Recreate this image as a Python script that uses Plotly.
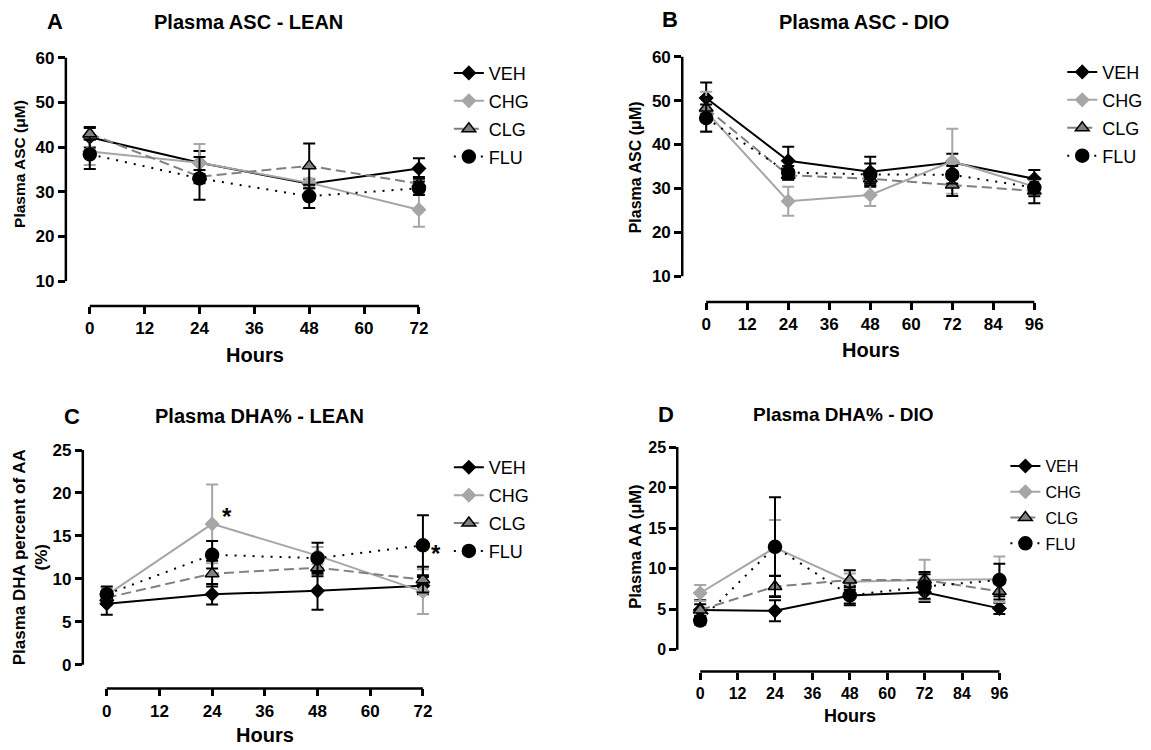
import plotly.graph_objects as go

W, H = 1151, 750
OX, OY = 8, 12  # page offset of the figure inside the browser window

# ---------------- data ----------------
groups = ["VEH", "CHG", "CLG", "FLU"]
hours_lean = [0, 24, 48, 72]
hours_dio = [0, 24, 48, 72, 96]
ticks_lean = [0, 12, 24, 36, 48, 60, 72]
ticks_dio = [0, 12, 24, 36, 48, 60, 72, 84, 96]
ticks_asc = [10, 20, 30, 40, 50, 60]
ticks_dha = [0, 5, 10, 15, 20, 25]

# Panel A: Plasma ASC - LEAN (uM)
a_veh = [42.2, 36.5, 31.8, 35.2]
a_chg = [39.0, 36.5, 32.0, 26.0]
a_clg = [43.0, 33.4, 35.8, 31.8]
a_flu = [38.4, 33.0, 29.0, 30.8]
a_veh_err = [2.3, 2.6, 1.0, 2.3]
a_chg_err = [3.0, 4.2, 1.0, 3.8]
a_clg_err = [1.3, 1.5, 5.0, 1.5]
a_flu_err = [3.3, 4.8, 2.6, 1.5]

# Panel B: Plasma ASC - DIO (uM)
b_veh = [50.6, 36.3, 33.8, 35.9, 32.2]
b_chg = [47.5, 27.1, 28.5, 36.2, 30.4]
b_clg = [48.3, 33.0, 32.2, 30.8, 29.4]
b_flu = [46.0, 33.6, 33.2, 33.1, 30.2]
b_veh_err = [3.5, 3.2, 3.4, 2.0, 2.0]
b_chg_err = [4.5, 3.3, 2.5, 7.4, 1.5]
b_clg_err = [2.5, 1.0, 1.0, 2.5, 2.8]
b_flu_err = [3.1, 1.5, 2.5, 2.0, 2.0]

# Panel C: Plasma DHA% - LEAN (% of AA)
c_veh = [7.1, 8.2, 8.6, 9.2]
c_chg = [8.1, 16.4, 12.7, 8.5]
c_clg = [7.8, 10.6, 11.3, 9.9]
c_flu = [8.2, 12.8, 12.4, 13.9]
c_veh_err = [1.3, 1.2, 2.2, 1.0]
c_chg_err = [0.8, 4.6, 1.0, 2.6]
c_clg_err = [0.6, 1.5, 1.0, 1.5]
c_flu_err = [0.9, 1.6, 1.8, 3.5]
c_star_x = [24, 72]
c_star_y = [17.3, 12.9]

# Panel D: Plasma DHA% - DIO (AA, uM)
d_veh = [4.9, 4.8, 6.7, 7.1, 5.1]
d_chg = [7.0, 12.6, 8.4, 8.6, 8.7]
d_clg = [4.9, 7.8, 8.6, 8.6, 7.2]
d_flu = [3.6, 12.7, 6.7, 7.8, 8.6]
d_veh_err = [1.2, 1.3, 1.2, 1.2, 0.7]
d_chg_err = [1.0, 3.4, 1.0, 2.5, 2.8]
d_clg_err = [0.7, 1.3, 1.2, 1.0, 1.0]
d_flu_err = [0.5, 6.1, 1.0, 1.5, 2.0]

# ---------------- styles ----------------
FONT = "Arial, Liberation Sans, Helvetica, sans-serif"
styles = {
    "VEH": dict(color="#000000", dash="solid", symbol="diamond", fill="#000000", edge="#000000", err="#000000", size=10),
    "CHG": dict(color="#a6a6a6", dash="solid", symbol="diamond", fill="#a6a6a6", edge="#a6a6a6", err="#a6a6a6", size=10),
    "CLG": dict(color="#808080", dash="10px,5px", symbol="triangle-up", fill="#808080", edge="#000000", err="#000000", size=12),
    "FLU": dict(color="#000000", dash="2px,7px", symbol="circle", fill="#000000", edge="#000000", err="#000000", size=13),
}


def px_x(p):
    return (p - OX) / W


def px_y(p):
    return 1 - (p - OY) / H


fig = go.Figure()

panels = [
    ("A", hours_lean, [a_veh, a_chg, a_clg, a_flu], [a_veh_err, a_chg_err, a_clg_err, a_flu_err], "", "legend"),
    ("B", hours_dio, [b_veh, b_chg, b_clg, b_flu], [b_veh_err, b_chg_err, b_clg_err, b_flu_err], "2", "legend2"),
    ("C", hours_lean, [c_veh, c_chg, c_clg, c_flu], [c_veh_err, c_chg_err, c_clg_err, c_flu_err], "3", "legend3"),
    ("D", hours_dio, [d_veh, d_chg, d_clg, d_flu], [d_veh_err, d_chg_err, d_clg_err, d_flu_err], "4", "legend4"),
]

for name, xs, series, errs, sfx, leg in panels:
    for g, ys, er in zip(groups, series, errs):
        st = styles[g]
        fig.add_trace(go.Scatter(
            x=xs, y=ys, name=g, mode="lines+markers",
            xaxis="x" + sfx, yaxis="y" + sfx, legend=leg, legendgroup=name + g,
            line=dict(color=st["color"], width=2, dash=st["dash"]),
            marker=dict(symbol=st["symbol"], size=st["size"], color=st["fill"],
                        line=dict(color=st["edge"], width=1.5)),
            error_y=dict(type="data", array=er, visible=True, color=st["err"], thickness=2, width=6),
            cliponaxis=False,
        ))

geo = {
    "A": dict(left=66, x0=90, ppx=55 / 12, xr=74, yref=60, yrefpx=57, ppy=4.5, bottom=307, ytop=61,
              yt=ticks_asc, xt=ticks_lean, ylo=10, yhi=60, xhi=72, tf=17),
    "B": dict(left=684, x0=708, ppx=329 / 96, xr=98, yref=60, yrefpx=56, ppy=4.42, bottom=303, ytop=61,
              yt=ticks_asc, xt=ticks_dio, ylo=10, yhi=60, xhi=96, tf=17),
    "C": dict(left=83, x0=107, ppx=317 / 72, xr=74, yref=25, yrefpx=452, ppy=8.64, bottom=692, ytop=25.6,
              yt=ticks_dha, xt=ticks_lean, ylo=0, yhi=25, xhi=72, tf=17),
    "D": dict(left=679, x0=702, ppx=300 / 96, xr=98, yref=25, yrefpx=449, ppy=8.16, bottom=675, ytop=25.6,
              yt=ticks_dha, xt=ticks_dio, ylo=0, yhi=25, xhi=96, tf=16),
}

axis_layout = {}
shapes = []
for (name, xs, series, errs, sfx, leg) in panels:
    g = geo[name]
    xmin = -(g["x0"] - g["left"]) / g["ppx"]
    right_px = g["x0"] + g["xr"] * g["ppx"]
    ymin = g["yref"] - (g["bottom"] - g["yrefpx"]) / g["ppy"]
    top_px = g["yrefpx"] - (g["ytop"] - g["yref"]) * g["ppy"]
    tickfont = dict(family=FONT, size=g["tf"], color="black", weight="bold")
    axis_layout["xaxis" + sfx] = dict(
        domain=[px_x(g["left"]), px_x(right_px)], range=[xmin, g["xr"]], anchor="y" + sfx,
        tickmode="array", tickvals=g["xt"], ticks="outside", ticklen=7, tickwidth=2.5, tickcolor="black",
        showline=False, showgrid=False, zeroline=False, tickfont=tickfont, fixedrange=True)
    axis_layout["yaxis" + sfx] = dict(
        domain=[px_y(g["bottom"]), px_y(top_px)], range=[ymin, g["ytop"]], anchor="x" + sfx,
        tickmode="array", tickvals=g["yt"], ticks="outside", ticklen=7, tickwidth=2.5, tickcolor="black",
        showline=False, showgrid=False, zeroline=False, tickfont=tickfont, fixedrange=True)
    xa = "x" + sfx
    ya = "y" + sfx
    shapes.append(dict(type="line", xref=xa + " domain", yref=ya, x0=0, x1=0, y0=g["ylo"], y1=g["yhi"],
                       line=dict(color="black", width=2.5), layer="above"))
    shapes.append(dict(type="line", xref=xa, yref=ya + " domain", x0=0, x1=g["xhi"], y0=0, y1=0,
                       line=dict(color="black", width=2.5), layer="above"))

annotations = []


def add_text(text, x, y, size, bold=True, angle=0, xanchor="center"):
    annotations.append(dict(
        text=text, x=px_x(x), y=px_y(y), xref="paper", yref="paper", showarrow=False,
        xanchor=xanchor, yanchor="middle", textangle=angle,
        font=dict(family=FONT, size=size, color="black", weight="bold" if bold else "normal")))


# panel letters
add_text("A", 55, 21, 22)
add_text("B", 672, 19, 22)
add_text("C", 72, 418, 22)
add_text("D", 668, 416, 22)
# titles
add_text("Plasma ASC - LEAN", 249, 21, 20)
add_text("Plasma ASC - DIO", 866, 21, 20)
add_text("Plasma DHA% - LEAN", 260, 418, 20)
add_text("Plasma DHA% - DIO", 846, 416, 19)
# x titles
add_text("Hours", 256, 356, 20)
add_text("Hours", 873, 351, 20)
add_text("Hours", 266, 739, 20)
add_text("Hours", 852, 720, 18)
# y titles
add_text("Plasma ASC (μM)", 20, 164, 15.5, angle=-90)
add_text("Plasma ASC (μM)", 638, 167, 16, angle=-90)
add_text("Plasma DHA percent of AA<br>(%)", 30, 560, 17, angle=-90)
add_text("Plasma AA (μM)", 637, 549, 16.5, angle=-90)

# significance stars in panel C
for sx, sy, shift in zip(c_star_x, c_star_y, [15, 13]):
    annotations.append(dict(text="*", x=sx, y=sy, xref="x3", yref="y3", showarrow=False,
                            xanchor="center", yanchor="middle", xshift=shift,
                            font=dict(family=FONT, size=24, color="black", weight="bold")))


def legend_at(x, y, size, gap):
    return dict(x=px_x(x), y=px_y(y), xanchor="left", yanchor="top", bgcolor="rgba(0,0,0,0)",
                borderwidth=0, font=dict(family=FONT, size=size, color="black"),
                itemwidth=30, tracegroupgap=gap, traceorder="grouped")


fig.update_layout(
    width=W, height=H, margin=dict(l=0, r=0, t=0, b=0),
    paper_bgcolor="white", plot_bgcolor="white",
    showlegend=True,
    legend=legend_at(450, 54, 18, 1.5),
    legend2=legend_at(1065, 53, 18, 1.5),
    legend3=legend_at(450, 451, 18, 1.5),
    legend4=legend_at(1008, 451, 16, 2),
    annotations=annotations, shapes=shapes,
    **axis_layout,
)

fig.write_html("out.html")
